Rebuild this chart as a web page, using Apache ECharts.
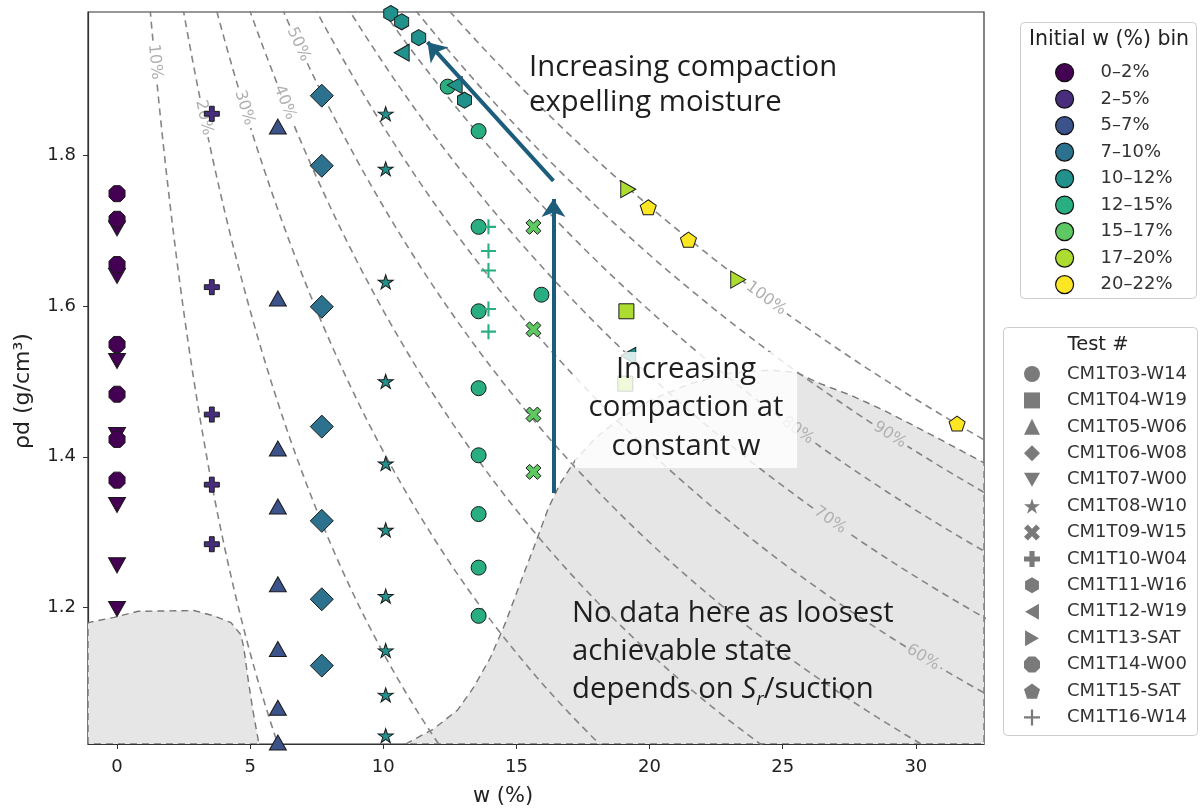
<!DOCTYPE html>
<html>
<head>
<meta charset="utf-8">
<script src="https://cdn.jsdelivr.net/npm/echarts@6/dist/echarts.min.js"></script>
<style>
  html, body { margin: 0; padding: 0; background: #ffffff; }
  #chart { width: 1202px; height: 812px; }
</style>
</head>
<body>
<div id="chart"></div>
<script>
// ---------------- data ----------------
const BIN_LABELS = ['0–2%', '2–5%', '5–7%', '7–10%', '10–12%', '12–15%', '15–17%', '17–20%', '20–22%'];
const BIN_COLORS = ['#440154', '#472d7b', '#3b528b', '#2c728e', '#21918c', '#28ae80', '#5ec962', '#addc30', '#fde725'];

const X_TICKS = [0, 5, 10, 15, 20, 25, 30];
const Y_TICKS = [1.2, 1.4, 1.6, 1.8];

const TEST_NAMES = ['CM1T03-W14', 'CM1T04-W19', 'CM1T05-W06', 'CM1T06-W08', 'CM1T07-W00', 'CM1T08-W10', 'CM1T09-W15',
  'CM1T10-W04', 'CM1T11-W16', 'CM1T12-W19', 'CM1T13-SAT', 'CM1T14-W00', 'CM1T15-SAT', 'CM1T16-W14'];
// initial-w bin of each test (index into BIN_LABELS)
const TEST_BINS = [5, 7, 2, 3, 0, 4, 6, 1, 4, 4, 7, 0, 8, 5];

// [w (%), dry density (g/cm3)]
const CM1T03_W14 = [[13.58, 1.832], [13.58, 1.705], [13.58, 1.593], [13.58, 1.491], [13.58, 1.402], [13.58, 1.324],
  [13.58, 1.253], [13.58, 1.189], [12.42, 1.891], [15.94, 1.615]];
const CM1T04_W19 = [[19.13, 1.593], [19.09, 1.497]];
const CM1T05_W06 = [[6.04, 1.838], [6.04, 1.610], [6.04, 1.411], [6.04, 1.334], [6.04, 1.231], [6.04, 1.145],
  [6.04, 1.067], [6.04, 1.021]];
const CM1T06_W08 = [[7.69, 1.879], [7.69, 1.786], [7.69, 1.599], [7.69, 1.440], [7.69, 1.315], [7.69, 1.211], [7.69, 1.123]];
const CM1T07_W00 = [[0, 1.703], [0, 1.640], [0, 1.527], [0, 1.429], [0, 1.336], [0, 1.256], [0, 1.198]];
const CM1T08_W10 = [[10.09, 1.855], [10.09, 1.782], [10.09, 1.632], [10.09, 1.500], [10.09, 1.391], [10.09, 1.303],
  [10.09, 1.215], [10.09, 1.143], [10.09, 1.084], [10.09, 1.030]];
const CM1T09_W15 = [[15.64, 1.705], [15.64, 1.569], [15.64, 1.456], [15.64, 1.380]];
const CM1T10_W04 = [[3.56, 1.855], [3.56, 1.625], [3.56, 1.456], [3.56, 1.363], [3.56, 1.284]];
const CM1T11_W16 = [[10.28, 1.988], [10.69, 1.977], [11.33, 1.956], [13.05, 1.873]];
const CM1T12_W19 = [[10.69, 1.936], [12.68, 1.893], [19.20, 1.534]];
const CM1T13_SAT = [[19.20, 1.755], [23.33, 1.635]];
const CM1T14_W00 = [[0, 1.749], [0, 1.715], [0, 1.655], [0, 1.549], [0, 1.483], [0, 1.423], [0, 1.369]];
const CM1T15_SAT = [[19.95, 1.731], [21.46, 1.688], [31.55, 1.444]];
const CM1T16_W14 = [[13.95, 1.705], [13.95, 1.673], [13.95, 1.647], [13.95, 1.596], [13.95, 1.566]];

const TEST_POINTS = [CM1T03_W14, CM1T04_W19, CM1T05_W06, CM1T06_W08, CM1T07_W00, CM1T08_W10, CM1T09_W15,
  CM1T10_W04, CM1T11_W16, CM1T12_W19, CM1T13_SAT, CM1T14_W00, CM1T15_SAT, CM1T16_W14];

// specific gravity of solids and degree-of-saturation levels for the Sr reference lines
const GS = 2.65;
const SR_LEVELS = [10, 20, 30, 40, 50, 60, 70, 80, 90, 100];

// unreachable (no-data) regions, [w, dry density] outlines
const NO_DATA_LEFT = [[-1.09, 1.019], [-1.09, 1.180], [-0.11, 1.187], [0.79, 1.195], [2.89, 1.196], [3.64, 1.189],
  [4.28, 1.180], [4.65, 1.164], [4.76, 1.147], [4.91, 1.108], [5.10, 1.064], [5.33, 1.019]];
const NO_DATA_RIGHT = [[10.84, 1.019], [11.89, 1.039], [12.79, 1.064], [13.39, 1.094], [14.03, 1.134], [14.59, 1.180],
  [15.15, 1.233], [15.72, 1.286], [16.20, 1.332], [16.65, 1.365], [17.22, 1.396], [17.97, 1.425], [18.90, 1.451],
  [20.03, 1.475], [21.53, 1.497], [23.03, 1.511], [24.53, 1.515], [25.51, 1.512], [26.41, 1.497], [27.53, 1.482],
  [28.66, 1.464], [29.89, 1.442], [31.02, 1.421], [32.56, 1.392], [32.56, 1.019]];

// ---------------- chart ----------------
const X_MIN = -1.09, X_MAX = 32.56, Y_MIN = 1.019, Y_MAX = 1.99;
const TICK_FONT = 'DejaVu Sans';
const NOTE_FONT = '"Open Sans", "Noto Sans", sans-serif';
const NOTE_SIZE = 29.3;
const ARROW_COLOR = '#1d5d7c';

const SYM = {
  triDown: 'path://M0,0L100,0L50,87Z',
  triLeft: 'path://M0,50L87,0L87,100Z',
  triRight: 'path://M87,50L0,0L0,100Z',
  star: 'path://M50,0L61.17,34.63L97.55,34.55L68.07,55.87L79.39,90.45L50,69L20.61,90.45L31.93,55.87L2.45,34.55L38.83,34.63Z',
  xFilled: 'path://M0,24L24,0L50,26L76,0L100,24L74,50L100,76L76,100L50,74L24,100L0,76L26,50Z',
  plusFilled: 'path://M34,0L66,0L66,34L100,34L100,66L66,66L66,100L34,100L34,66L0,66L0,34L34,34Z',
  hexagon: 'path://M50,0L93.3,25L93.3,75L50,100L6.7,75L6.7,25Z',
  octagon: 'path://M30.87,3.81L69.13,3.81L96.19,30.87L96.19,69.13L69.13,96.19L30.87,96.19L3.81,69.13L3.81,30.87Z',
  pentagon: 'path://M50,0L97.55,34.55L79.39,90.45L20.61,90.45L2.45,34.55Z',
  plusThin: 'path://M43,0L57,0L57,43L100,43L100,57L57,57L57,100L43,100L43,57L0,57L0,43L43,43Z'
};

// marker shape and size per test, in TEST_NAMES order
const MARKERS = [
  { symbol: 'circle', size: 15 },
  { symbol: 'rect', size: 15 },
  { symbol: 'triangle', size: [17, 15] },
  { symbol: 'diamond', size: [23, 23] },
  { symbol: SYM.triDown, size: [17, 15] },
  { symbol: SYM.star, size: [15, 14] },
  { symbol: SYM.xFilled, size: 15 },
  { symbol: SYM.plusFilled, size: 15 },
  { symbol: SYM.hexagon, size: [14, 16] },
  { symbol: SYM.triLeft, size: [15, 17] },
  { symbol: SYM.triRight, size: [15, 17] },
  { symbol: SYM.octagon, size: 16 },
  { symbol: SYM.pentagon, size: [16, 15] },
  { symbol: SYM.plusThin, size: 15, noEdge: true }
];

const satW = (sr, rho) => sr * (1 / rho - 1 / GS);

const chart = echarts.init(document.getElementById('chart'), null, { renderer: 'canvas' });

function regionSeries(points) {
  return {
    type: 'custom',
    coordinateSystem: 'cartesian2d',
    silent: true,
    z: 1,
    clip: true,
    data: [points[0]],
    renderItem: function (params, api) {
      return {
        type: 'polygon',
        shape: { points: points.map(p => api.coord(p)) },
        style: { fill: '#e6e6e6', stroke: '#777777', lineWidth: 1.4, lineDash: [7, 5] }
      };
    }
  };
}

const scatterSeries = TEST_NAMES.map((name, i) => ({
  type: 'scatter',
  name: name,
  data: TEST_POINTS[i],
  symbol: MARKERS[i].symbol,
  symbolSize: MARKERS[i].size,
  z: 4,
  silent: true,
  itemStyle: {
    color: BIN_COLORS[TEST_BINS[i]],
    borderColor: '#1a1a1a',
    borderWidth: MARKERS[i].noEdge ? 0 : 1,
    opacity: 1
  }
}));

const binSeries = BIN_LABELS.map((name, i) => ({
  type: 'scatter', name: name, data: [], itemStyle: { color: BIN_COLORS[i], opacity: 1 }
}));

const arrowSeries = {
  type: 'lines',
  coordinateSystem: 'cartesian2d',
  silent: true,
  z: 6,
  symbol: ['none', 'arrow'],
  symbolSize: [15, 18],
  lineStyle: { color: ARROW_COLOR, width: 4, opacity: 1, curveness: 0 },
  data: [
    { coords: [[16.39, 1.766], [11.66, 1.950]] },
    { coords: [[16.39, 1.352], [16.39, 1.742]] }
  ]
};

const option = {
  animation: false,
  backgroundColor: '#ffffff',
  grid: { left: 88, right: 218, top: 12, bottom: 65, show: true, borderColor: '#333333', borderWidth: 1.2, backgroundColor: 'transparent' },
  xAxis: {
    type: 'value', min: X_MIN, max: X_MAX,
    name: 'w (%)', nameLocation: 'middle', nameGap: 42,
    nameTextStyle: { fontFamily: TICK_FONT, fontSize: 21, color: '#222', padding: [0, 66, 0, 0] },
    axisLine: { show: true, onZero: false, lineStyle: { color: '#333', width: 1.2 } },
    axisTick: { show: true, length: 5, customValues: X_TICKS, lineStyle: { color: '#333' } },
    axisLabel: { customValues: X_TICKS, fontFamily: TICK_FONT, fontSize: 18, color: '#222', margin: 14 },
    splitLine: { show: false }
  },
  yAxis: {
    type: 'value', min: Y_MIN, max: Y_MAX,
    name: 'ρd (g/cm³)', nameLocation: 'middle', nameGap: 54, nameRotate: 90,
    nameTextStyle: { fontFamily: TICK_FONT, fontSize: 22, color: '#222', padding: [0, 26, 0, 0] },
    axisLine: { show: true, onZero: false, lineStyle: { color: '#333', width: 1.2 } },
    axisTick: { show: true, length: 5, customValues: Y_TICKS, lineStyle: { color: '#333' } },
    axisLabel: { customValues: Y_TICKS, formatter: v => v.toFixed(1), fontFamily: TICK_FONT, fontSize: 18, color: '#222', margin: 12 },
    splitLine: { show: false }
  },
  legend: [
    {
      id: 'bins', orient: 'vertical', left: 1050, top: 58,
      itemWidth: 18, itemHeight: 18, itemGap: 7.3, selectedMode: false,
      data: BIN_LABELS.map((n, i) => ({ name: n, icon: 'circle', itemStyle: { color: BIN_COLORS[i], opacity: 1, borderColor: '#111', borderWidth: 1.2 } })),
      textStyle: { fontFamily: TICK_FONT, fontSize: 18, color: '#333', lineHeight: 18, padding: [0, 0, 0, 22] }
    },
    {
      id: 'tests', orient: 'vertical', left: 1019, top: 360,
      itemWidth: 16, itemHeight: 16, itemGap: 8.42, selectedMode: false,
      data: TEST_NAMES.map((n, i) => ({ name: n, icon: MARKERS[i].symbol, itemStyle: { color: '#7a7a7a', opacity: 1, borderWidth: 0 } })),
      textStyle: { fontFamily: TICK_FONT, fontSize: 18, color: '#333', lineHeight: 16, padding: [0, 0, 0, 22] }
    }
  ],
  graphic: [],
  series: [regionSeries(NO_DATA_LEFT), regionSeries(NO_DATA_RIGHT)].concat(scatterSeries, binSeries, [arrowSeries])
};

chart.setOption(option);

// Sr reference lines, broken where their inline labels sit
const SR_LABEL_AT = [1.924, 1.850, 1.863, 1.870, 1.947, 1.134, 1.316, 1.435, 1.429, 1.610];
const LABEL_SIZE = 16;
const toPx = p => chart.convertToPixel({ gridIndex: 0 }, p);

const srSeries = [];
const srLabels = [];
SR_LEVELS.forEach((sr, i) => {
  const rho0 = SR_LABEL_AT[i];
  const c = toPx([satW(sr, rho0), rho0]);
  const a = toPx([satW(sr, rho0 + 0.004), rho0 + 0.004]);
  const b = toPx([satW(sr, rho0 - 0.004), rho0 - 0.004]);
  const ang = Math.atan2(b[1] - a[1], b[0] - a[0]);
  const text = sr + '%';
  const half = text.length * 0.62 * LABEL_SIZE / 2 + 5;
  const segs = [];
  let seg = [];
  for (let k = 0; k <= 560; k++) {
    const rho = 0.98 + k * 0.002;
    const p = [satW(sr, rho), rho];
    const q = toPx(p);
    if (Math.hypot(q[0] - c[0], q[1] - c[1]) < half) {
      if (seg.length) segs.push(seg);
      seg = [];
    } else {
      seg.push(p);
    }
  }
  if (seg.length) segs.push(seg);
  segs.forEach(s => srSeries.push({
    type: 'line', data: s, showSymbol: false, symbol: 'none', silent: true, z: 2, clip: true,
    lineStyle: { color: '#858585', width: 1.6, type: [7, 5] }
  }));
  srLabels.push({
    type: 'text', x: c[0], y: c[1], rotation: -ang, z: 3, silent: true,
    style: { text: text, fontFamily: TICK_FONT, fontSize: LABEL_SIZE, fill: '#b0b0b0', align: 'center', verticalAlign: 'middle' }
  });
});

const graphics = [
  // legend frames and titles
  { type: 'rect', z: 1, silent: true, shape: { x: 1020.5, y: 22.5, width: 176, height: 276, r: 4 }, style: { fill: '#fff', stroke: '#cccccc', lineWidth: 1 } },
  { type: 'text', z: 5, silent: true, x: 1109, y: 40, style: { text: 'Initial w (%) bin', fontFamily: TICK_FONT, fontSize: 20.5, fill: '#222', align: 'center', verticalAlign: 'middle' } },
  { type: 'rect', z: 1, silent: true, shape: { x: 1003.5, y: 327.5, width: 194, height: 408, r: 4 }, style: { fill: '#fff', stroke: '#cccccc', lineWidth: 1 } },
  { type: 'text', z: 5, silent: true, x: 1098, y: 345, style: { text: 'Test #', fontFamily: TICK_FONT, fontSize: 19.5, fill: '#222', align: 'center', verticalAlign: 'middle' } },
  // annotations
  { type: 'text', z: 20, silent: true, x: 529, y: 50, style: { text: 'Increasing compaction\nexpelling moisture', fontFamily: NOTE_FONT, fontSize: NOTE_SIZE, lineHeight: 35, fill: '#1e1e1e', align: 'left', verticalAlign: 'top' } },
  { type: 'rect', z: 19, silent: true, shape: { x: 575, y: 352, width: 222, height: 116 }, style: { fill: 'rgba(255,255,255,0.82)' } },
  { type: 'text', z: 20, silent: true, x: 686, y: 350, style: { text: 'Increasing\ncompaction at\nconstant w', fontFamily: NOTE_FONT, fontSize: NOTE_SIZE, lineHeight: 38.5, fill: '#1e1e1e', align: 'center', verticalAlign: 'top' } },
  {
    type: 'text', z: 20, silent: true, x: 572, y: 595,
    style: {
      text: '{a|No data here as loosest}\n{a|achievable state}\n{a|depends on }{s|S}{r|r}{a|/suction}',
      align: 'left', verticalAlign: 'top',
      rich: {
        a: { fontFamily: NOTE_FONT, fontSize: NOTE_SIZE, lineHeight: 38, fill: '#1e1e1e' },
        s: { fontFamily: NOTE_FONT, fontSize: NOTE_SIZE, fontStyle: 'italic', lineHeight: 38, fill: '#1e1e1e' },
        r: { fontFamily: NOTE_FONT, fontSize: 19, fontStyle: 'italic', lineHeight: 30, verticalAlign: 'bottom', fill: '#1e1e1e' }
      }
    }
  }
].concat(srLabels);

chart.setOption({ series: option.series.concat(srSeries), graphic: graphics });
</script>
</body>
</html>
